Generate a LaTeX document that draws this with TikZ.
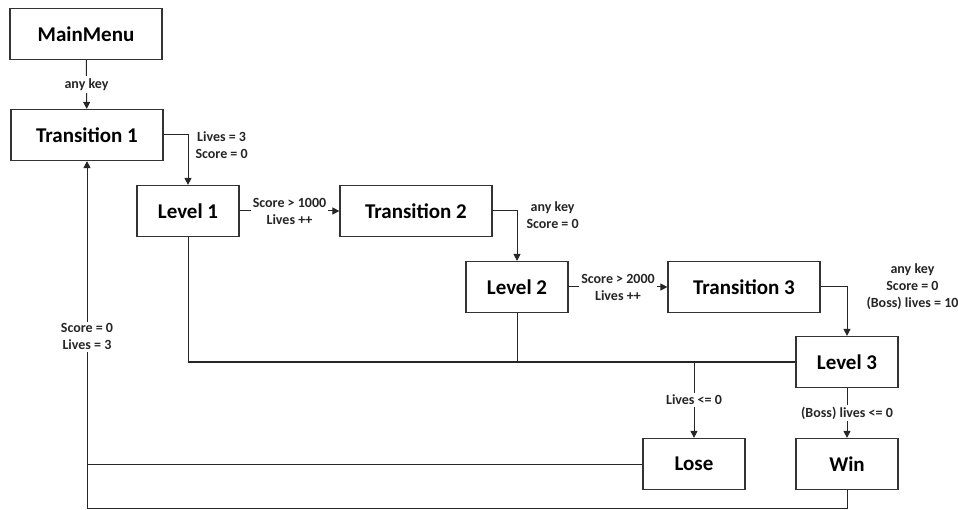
\documentclass[tikz,border=0pt]{standalone}
\usepackage{fontspec}
\setmainfont{Carlito}
\usetikzlibrary{arrows.meta}

\begin{document}
\begin{tikzpicture}[x=1pt, y=-1pt,
state/.style = {rectangle, draw=black!80, line width=1.2pt, minimum width=152pt, minimum height=51pt, font=\fontsize{21}{25}\selectfont\bfseries},
level/.style = {state, minimum width=102pt},
arc/.style = {draw=black!85, line width=1pt},
arc_to/.style = {arc, -{Triangle[length=7pt,width=7pt]}},
cond/.style = {font=\fontsize{14}{17}\selectfont\bfseries, text=black!85, align=center, inner sep=1pt},
cond_on/.style = {cond, fill=white, inner sep=2pt}]
\useasboundingbox (0,0) rectangle (958,510);
\node[state] (menu) at (86,34) {MainMenu};
\node[state] (trans1) at (87,135) {Transition 1};
\node[level] (level1) at (188,211) {Level 1};
\node[state] (trans2) at (416,211) {Transition 2};
\node[level] (level2) at (517,287) {Level 2};
\node[state] (trans3) at (744,287) {Transition 3};
\node[level] (level3) at (847,362) {Level 3};
\node[level] (lose) at (694,464) {Lose};
\node[level] (win) at (847,464) {Win};
\coordinate (merge) at (lose.north |- level3.west);
\coordinate (backbot) at (87,508);
% forward path
\draw[arc_to] (menu) -- node[cond_on] {any key} (trans1);
\draw[arc_to] (trans1.east) -| node[cond, anchor=west, xshift=6pt, yshift=-10pt] {Lives = 3\\Score = 0} (level1.north);
\draw[arc_to] (level1) -- node[cond_on] {Score > 1000\\Lives ++} (trans2);
\draw[arc_to] (trans2.east) -| node[cond, anchor=west, xshift=8pt, yshift=-4pt] {any key\\Score = 0} (level2.north);
\draw[arc_to] (level2) -- node[cond_on] {Score > 2000\\Lives ++} (trans3);
\draw[arc_to] (trans3.east) -| node[cond, anchor=west, xshift=18pt] {any key\\Score = 0\\(Boss) lives = 10} (level3.north);
% game over
\draw[arc] (level1.south) |- (level3.west);
\draw[arc] (level2.south) -- (level2.south |- level3.west);
\draw[arc_to] (merge) -- node[cond_on] {Lives <= 0} (lose.north);
\draw[arc_to] (level3) -- node[cond_on] {(Boss) lives <= 0} (win);
% back to start
\draw[arc] (win.south) |- (backbot) -- (lose.west -| backbot);
\draw[arc_to] (lose.west) -| node[cond_on, pos=0.71] {Score = 0\\Lives = 3} (trans1.south);
\end{tikzpicture}
\end{document}
